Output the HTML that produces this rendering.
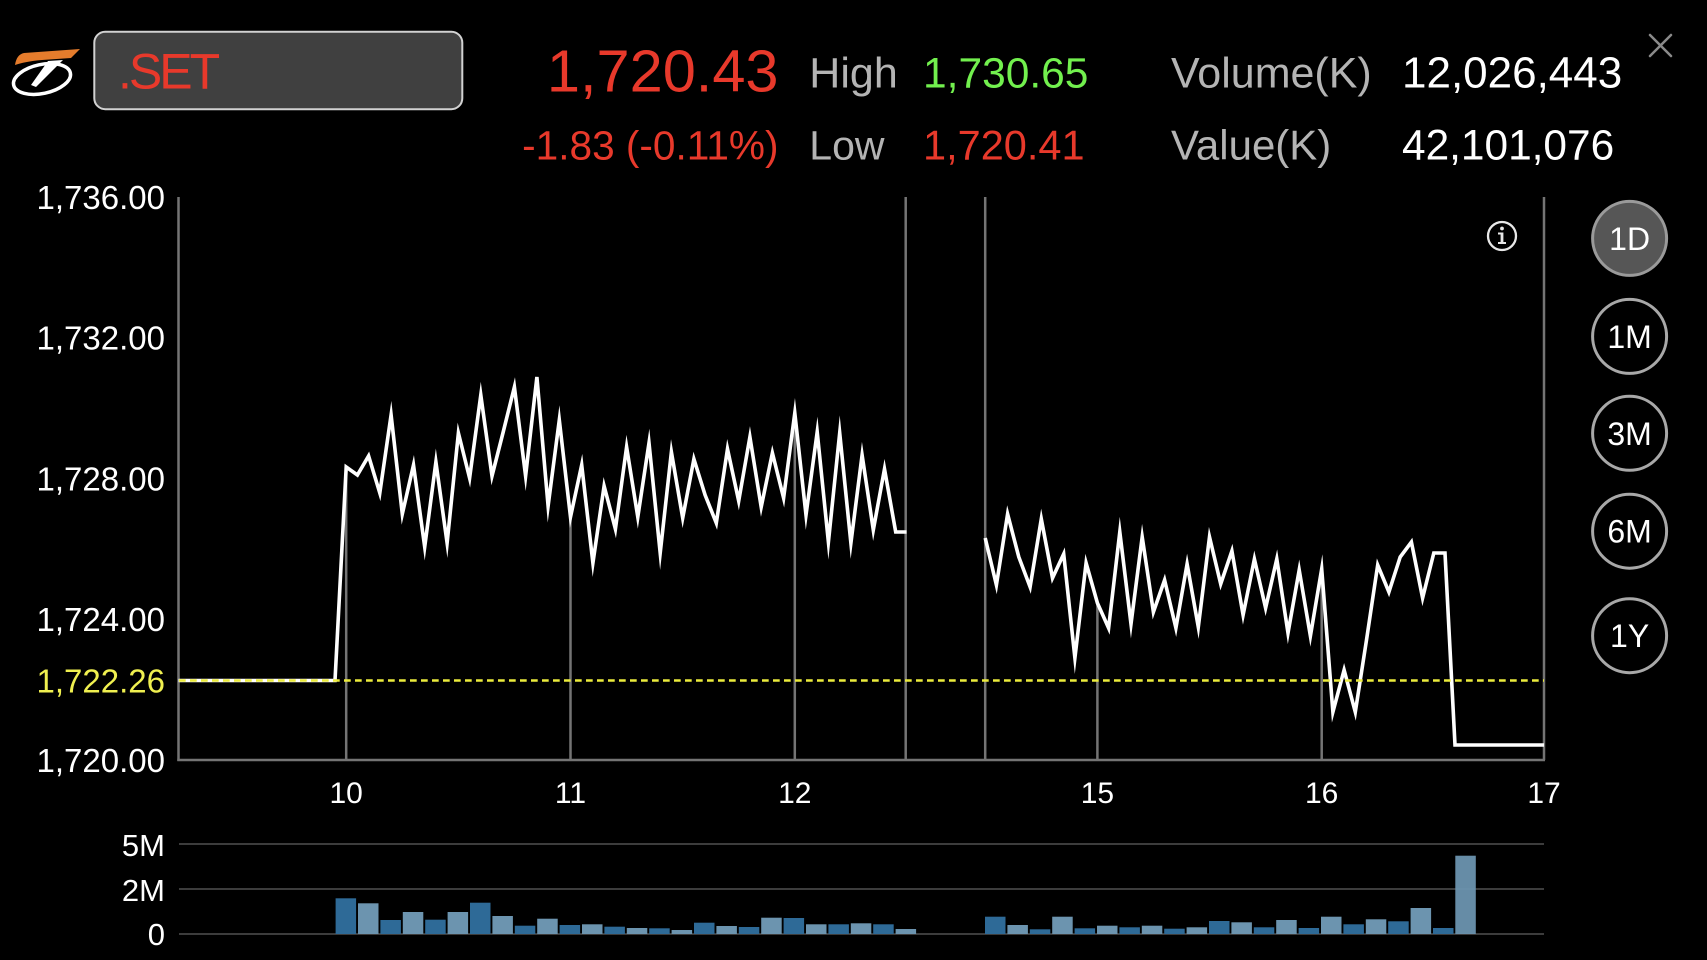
<!DOCTYPE html>
<html>
<head>
<meta charset="utf-8">
<style>
html,body{margin:0;padding:0;background:#000;}
body{width:1707px;height:960px;overflow:hidden;}
svg{display:block;}
text{font-family:"Liberation Sans",Arial,sans-serif;}
</style>
</head>
<body>
<svg width="1707" height="960" viewBox="0 0 1707 960" xmlns="http://www.w3.org/2000/svg">
<rect x="0" y="0" width="1707" height="960" fill="#000"/>

<!-- Logo -->
<g>
  <ellipse cx="42" cy="79" rx="29" ry="14.5" transform="rotate(-12 42 79)" fill="#000" stroke="#fff" stroke-width="3.5"/>
  <path d="M15,65 C16,58 19,54 24,53 L80,49 L71,58 L42,60 C30,61 21,63 15,65 Z" fill="#e57c2c"/>
  <path d="M48,61 L63,60 L36,87 L31,85 Z" fill="#fff"/>
</g>

<!-- Symbol box -->
<rect x="94.3" y="31.7" width="368" height="77.5" rx="11" ry="11" fill="#404040" stroke="#d2d2d2" stroke-width="2"/>
<text x="118" y="88.3" font-size="50" fill="#e8392b" letter-spacing="-3">.SET</text>

<!-- Header values -->
<text x="778.5" y="91.7" font-size="59.5" fill="#e8392b" text-anchor="end">1,720.43</text>
<text x="778.5" y="159.3" font-size="40.6" fill="#e8392b" text-anchor="end">-1.83 (-0.11%)</text>
<text x="809.3" y="87.3" font-size="43" fill="#b4b4b4">High</text>
<text x="809.3" y="159.3" font-size="41" fill="#b4b4b4">Low</text>
<text x="923" y="87.3" font-size="42.5" fill="#72f04e">1,730.65</text>
<text x="923" y="159.3" font-size="41.5" fill="#e8392b">1,720.41</text>
<text x="1171" y="87.3" font-size="43" fill="#b4b4b4">Volume(K)</text>
<text x="1171" y="159.3" font-size="42" fill="#b4b4b4">Value(K)</text>
<text x="1402" y="87.3" font-size="44" fill="#ffffff">12,026,443</text>
<text x="1402" y="159.3" font-size="42.4" fill="#ffffff">42,101,076</text>

<!-- Close X -->
<g stroke="#8a8a8a" stroke-width="2.5" stroke-linecap="round">
  <line x1="1650" y1="35" x2="1671" y2="56"/>
  <line x1="1671" y1="35" x2="1650" y2="56"/>
</g>

<!-- Y axis labels -->
<g font-size="33" fill="#ffffff" text-anchor="end">
  <text x="165" y="208.8">1,736.00</text>
  <text x="165" y="349.6">1,732.00</text>
  <text x="165" y="490.3">1,728.00</text>
  <text x="165" y="631.1">1,724.00</text>
  <text x="165" y="692.3" fill="#f0f050">1,722.26</text>
  <text x="165" y="771.8">1,720.00</text>
</g>

<!-- Axes and frame -->
<g stroke="#747474" stroke-width="2.5" fill="none">
  <line x1="178.5" y1="197" x2="178.5" y2="761"/>
  <line x1="177.3" y1="760" x2="1545" y2="760"/>
  <line x1="905.7" y1="197" x2="905.7" y2="760"/>
  <line x1="985.2" y1="197" x2="985.2" y2="760"/>
  <line x1="1544" y1="197" x2="1544" y2="760"/>
  <!-- drop gridlines -->
  <line x1="346.2" y1="467" x2="346.2" y2="760"/>
  <line x1="570.5" y1="517" x2="570.5" y2="760"/>
  <line x1="794.8" y1="413" x2="794.8" y2="760"/>
  <line x1="1097.4" y1="603" x2="1097.4" y2="760"/>
  <line x1="1321.7" y1="569" x2="1321.7" y2="760"/>
</g>

<!-- Price line -->
<g fill="none" stroke="#ffffff" stroke-width="3.6" stroke-linejoin="miter" stroke-miterlimit="10">
  <polyline points="178.5,680.5 335,680.5 346.2,467 357.4,475 368.6,456 379.8,493 391.1,415 402.3,514 413.5,465 424.7,547 435.9,462 447.1,543 458.4,433 469.6,478 480.8,395 492.0,476 503.2,432 514.4,387 525.6,476 536.9,377 548.1,506 559.3,420 570.5,517 581.7,465 592.9,563 604.1,486 615.4,529 626.6,447 637.8,517 649.0,443 660.2,553 671.4,452 682.7,518 693.9,459 705.1,495 716.3,523 727.5,449 738.7,501 749.9,437 761.2,507 772.4,453 783.6,498 794.8,413 806.0,515 817.2,432 828.4,542 839.7,433 850.9,543 862.1,455 873.3,530 884.5,469 895.7,532 906.5,532"/>
  <polyline points="985.2,538 996.4,585 1007.6,514 1018.8,557 1030.1,587 1041.3,519 1052.5,578 1063.7,554 1074.9,658 1086.1,563 1097.4,603 1108.6,628 1119.8,532 1131.0,624 1142.2,537 1153.4,612 1164.6,580 1175.9,628 1187.1,564 1198.3,627 1209.5,537 1220.7,584 1231.9,551 1243.1,615 1254.4,559 1265.6,608 1276.8,559 1288.0,633 1299.2,570 1310.4,636 1321.7,569 1332.9,712 1344.1,670 1355.3,712 1366.5,640 1377.7,565 1388.9,592 1400.2,557 1411.4,542 1422.6,598 1433.8,553 1445.0,553 1455,745 1544,745"/>
</g>

<!-- Prior close dashed line -->
<line x1="179" y1="680.5" x2="1544" y2="680.5" stroke="#ecec3c" stroke-width="2.5" stroke-dasharray="6.7 4.3"/>

<!-- Info icon -->
<g>
  <circle cx="1502" cy="236" r="14" fill="none" stroke="#e8e8e8" stroke-width="2.3"/>
  <circle cx="1502" cy="228.5" r="1.9" fill="#e8e8e8"/>
  <rect x="1500.6" y="232.5" width="2.8" height="11" fill="#e8e8e8"/>
  <rect x="1498" y="232.5" width="4" height="2" fill="#e8e8e8"/>
  <rect x="1498" y="242" width="8" height="2" fill="#e8e8e8"/>
</g>

<!-- Period buttons -->
<g stroke-width="3">
  <circle cx="1629.6" cy="238.4" r="37" fill="#565656" stroke="#9a9a9a"/>
  <circle cx="1629.6" cy="336.4" r="37" fill="#000" stroke="#a8a8a8"/>
  <circle cx="1629.6" cy="433.3" r="37" fill="#000" stroke="#a8a8a8"/>
  <circle cx="1629.6" cy="531.2" r="37" fill="#000" stroke="#a8a8a8"/>
  <circle cx="1629.6" cy="635.7" r="37" fill="#000" stroke="#a8a8a8"/>
</g>
<g font-size="32" fill="#ffffff" text-anchor="middle">
  <text x="1629.6" y="250">1D</text>
  <text x="1629.6" y="348">1M</text>
  <text x="1629.6" y="444.8">3M</text>
  <text x="1629.6" y="542.7">6M</text>
  <text x="1629.6" y="647.2">1Y</text>
</g>

<!-- X axis labels -->
<g font-size="30" fill="#ffffff" text-anchor="middle">
  <text x="346.2" y="803">10</text>
  <text x="570.5" y="803">11</text>
  <text x="794.8" y="803">12</text>
  <text x="1097.4" y="803">15</text>
  <text x="1321.7" y="803">16</text>
  <text x="1544" y="803">17</text>
</g>

<!-- Volume grid -->
<g stroke="#3c3c3c" stroke-width="2">
  <line x1="179" y1="844" x2="1544" y2="844"/>
  <line x1="179" y1="889" x2="1544" y2="889"/>
  <line x1="179" y1="934" x2="1544" y2="934"/>
</g>
<g font-size="31" fill="#ffffff" text-anchor="end">
  <text x="165" y="856">5M</text>
  <text x="165" y="901">2M</text>
  <text x="165" y="945">0</text>
</g>

<!-- Volume bars -->
<g>
  <!-- morning -->
  <rect x="335.6" y="898.3" width="20.5" height="35.7" fill="#2e6a97"/>
  <rect x="358.0" y="903.3" width="20.5" height="30.7" fill="#6c94af"/>
  <rect x="380.4" y="920.0" width="20.5" height="14.0" fill="#2e6a97"/>
  <rect x="402.8" y="912.0" width="20.5" height="22.0" fill="#6c94af"/>
  <rect x="425.2" y="919.7" width="20.5" height="14.3" fill="#2e6a97"/>
  <rect x="447.6" y="912.0" width="20.5" height="22.0" fill="#6c94af"/>
  <rect x="470.0" y="902.7" width="20.5" height="31.3" fill="#2e6a97"/>
  <rect x="492.4" y="916.0" width="20.5" height="18.0" fill="#6c94af"/>
  <rect x="514.8" y="925.7" width="20.5" height="8.3" fill="#2e6a97"/>
  <rect x="537.2" y="918.7" width="20.5" height="15.3" fill="#6c94af"/>
  <rect x="559.6" y="925.0" width="20.5" height="9.0" fill="#2e6a97"/>
  <rect x="582.0" y="924.3" width="20.5" height="9.7" fill="#6c94af"/>
  <rect x="604.4" y="926.7" width="20.5" height="7.3" fill="#2e6a97"/>
  <rect x="626.8" y="928.0" width="20.5" height="6.0" fill="#6c94af"/>
  <rect x="649.2" y="928.3" width="20.5" height="5.7" fill="#2e6a97"/>
  <rect x="671.6" y="930.0" width="20.5" height="4.0" fill="#6c94af"/>
  <rect x="694.0" y="922.7" width="20.5" height="11.3" fill="#2e6a97"/>
  <rect x="716.4" y="926.0" width="20.5" height="8.0" fill="#6c94af"/>
  <rect x="738.8" y="927.0" width="20.5" height="7.0" fill="#2e6a97"/>
  <rect x="761.2" y="917.7" width="20.5" height="16.3" fill="#6c94af"/>
  <rect x="783.6" y="918.0" width="20.5" height="16.0" fill="#2e6a97"/>
  <rect x="806.0" y="924.3" width="20.5" height="9.7" fill="#6c94af"/>
  <rect x="828.4" y="924.3" width="20.5" height="9.7" fill="#2e6a97"/>
  <rect x="850.8" y="923.3" width="20.5" height="10.7" fill="#6c94af"/>
  <rect x="873.2" y="924.3" width="20.5" height="9.7" fill="#2e6a97"/>
  <rect x="895.6" y="929.0" width="20.5" height="5.0" fill="#6c94af"/>
  <!-- afternoon -->
  <rect x="985.0" y="916.7" width="20.5" height="17.3" fill="#2e6a97"/>
  <rect x="1007.4" y="925.0" width="20.5" height="9.0" fill="#6c94af"/>
  <rect x="1029.8" y="929.3" width="20.5" height="4.7" fill="#2e6a97"/>
  <rect x="1052.2" y="916.7" width="20.5" height="17.3" fill="#6c94af"/>
  <rect x="1074.6" y="928.3" width="20.5" height="5.7" fill="#2e6a97"/>
  <rect x="1097.0" y="925.7" width="20.5" height="8.3" fill="#6c94af"/>
  <rect x="1119.4" y="927.3" width="20.5" height="6.7" fill="#2e6a97"/>
  <rect x="1141.8" y="925.7" width="20.5" height="8.3" fill="#6c94af"/>
  <rect x="1164.2" y="928.7" width="20.5" height="5.3" fill="#2e6a97"/>
  <rect x="1186.6" y="927.3" width="20.5" height="6.7" fill="#6c94af"/>
  <rect x="1209.0" y="921.0" width="20.5" height="13.0" fill="#2e6a97"/>
  <rect x="1231.4" y="922.3" width="20.5" height="11.7" fill="#6c94af"/>
  <rect x="1253.8" y="927.3" width="20.5" height="6.7" fill="#2e6a97"/>
  <rect x="1276.2" y="920.0" width="20.5" height="14.0" fill="#6c94af"/>
  <rect x="1298.6" y="928.0" width="20.5" height="6.0" fill="#2e6a97"/>
  <rect x="1321.0" y="916.7" width="20.5" height="17.3" fill="#6c94af"/>
  <rect x="1343.4" y="924.3" width="20.5" height="9.7" fill="#2e6a97"/>
  <rect x="1365.8" y="919.3" width="20.5" height="14.7" fill="#6c94af"/>
  <rect x="1388.2" y="921.3" width="20.5" height="12.7" fill="#2e6a97"/>
  <rect x="1410.6" y="908.0" width="20.5" height="26.0" fill="#6c94af"/>
  <rect x="1433.0" y="928.0" width="20.5" height="6.0" fill="#2e6a97"/>
  <rect x="1455.3" y="855.7" width="20.5" height="78.3" fill="#6c94af" fill-opacity="0.95"/>
</g>
</svg>
</body>
</html>
